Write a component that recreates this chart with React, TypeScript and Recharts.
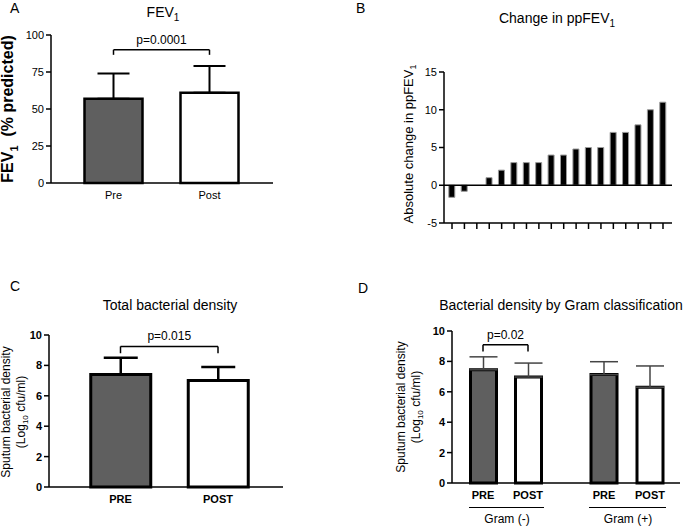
import React from 'react';
import { BarChart, Bar, XAxis, YAxis, ErrorBar, Cell, ReferenceLine } from 'recharts';

// Panel A – FEV1
const fevCategories = ['Pre', 'Post'];
const fevMean = [57, 61];
const fevSd = [17, 18];
const fevTicks = [0, 25, 50, 75, 100];

// Panel B – change in ppFEV1 per patient
const changeValues = [-1.6, -0.8, 0, 1, 2, 3, 3, 3, 4, 4, 4.8, 5, 5, 7, 7, 8, 10, 11];
const changeTicks = [-5, 0, 5, 10, 15];

// Panel C – total bacterial density
const densityCategories = ['PRE', 'POST'];
const totalMean = [7.4, 7.0];
const totalSd = [1.1, 0.9];
const densityTicks = [0, 2, 4, 6, 8, 10];

// Panel D – by Gram classification
const gramNegMean = [7.45, 6.97];
const gramNegSd = [0.85, 0.92];
const gramPosMean = [7.13, 6.3];
const gramPosSd = [0.85, 1.4];

const barFills = ['#5f5f5f', '#ffffff'];
const FONT = '"Liberation Sans", Arial, Helvetica, sans-serif';

const fevData = fevCategories.map((name, i) => ({ name, mean: fevMean[i], err: [0, fevSd[i]] }));
const changeData = changeValues.map((v, i) => ({ name: `p${i + 1}`, value: v }));
const totalData = densityCategories.map((name, i) => ({ name, mean: totalMean[i], err: [0, totalSd[i]] }));
const gramNegData = densityCategories.map((name, i) => ({ name, mean: gramNegMean[i], err: [0, gramNegSd[i]] }));
const gramPosData = densityCategories.map((name, i) => ({ name, mean: gramPosMean[i], err: [0, gramPosSd[i]] }));

const axisLine = { stroke: '#000', strokeWidth: 1.5 };
const tickLineStyle = { stroke: '#000', strokeWidth: 1.5 };

const abs = (left: number, top: number, extra: React.CSSProperties = {}): React.CSSProperties => ({
  position: 'absolute', left, top, fontFamily: FONT, color: '#000', lineHeight: 1, whiteSpace: 'nowrap', ...extra,
});

const Title: React.FC<{ cx: number; top: number; children: React.ReactNode }> = ({ cx, top, children }) => (
  <div style={abs(cx, top, { fontSize: 14, transform: 'translateX(-50%)' })}>{children}</div>
);

const Letter: React.FC<{ left: number; top: number; text: string }> = ({ left, top, text }) => (
  <div style={abs(left, top, { fontSize: 14 })}>{text}</div>
);

const VLabel: React.FC<{ cx: number; cy: number; style?: React.CSSProperties; children: React.ReactNode }> = ({ cx, cy, style, children }) => (
  <div style={abs(cx, cy, { transform: 'translate(-50%, -50%) rotate(-90deg)', textAlign: 'center', ...style })}>{children}</div>
);

const Bracket = (a: string, b: string, y: number, drop: number, text: string) => [
  <ReferenceLine key="h" segment={[{ x: a, y }, { x: b, y }]} stroke="#000" strokeWidth={1.5}
    label={{ value: text, position: 'top', fill: '#000', fontSize: 12, fontFamily: FONT, offset: 6 }} />,
  <ReferenceLine key="l" segment={[{ x: a, y }, { x: a, y: y - drop }]} stroke="#000" strokeWidth={1.5} />,
  <ReferenceLine key="r" segment={[{ x: b, y }, { x: b, y: y - drop }]} stroke="#000" strokeWidth={1.5} />,
];

const NoLabel = () => <g />;

export default function App() {
  return (
    <div style={{ position: 'absolute', left: 0, top: 0, width: 690, height: 526, background: '#fff', overflow: 'hidden' }}>
      {/* A */}
      <Letter left={10} top={1} text="A" />
      <Title cx={163} top={5}>FEV<sub style={{ fontSize: 10 }}>1</sub></Title>
      <VLabel cx={10} cy={109} style={{ fontSize: 16, fontWeight: 'bold' }}>
        FEV<sub style={{ fontSize: 11 }}>1</sub>&nbsp; (% predicted)
      </VLabel>
      <div style={{ position: 'absolute', left: 0, top: 0 }}>
        <BarChart width={345} height={263} data={fevData} margin={{ top: 35, right: 72, bottom: 50, left: 0 }}>
          <XAxis dataKey="name" padding={{ left: 14.5, right: 15.5 }} tickLine={false} axisLine={axisLine} height={30}
            tick={{ fill: '#000', fontSize: 11, fontFamily: FONT }} />
          <YAxis width={51} domain={[0, 100]} ticks={fevTicks} tickSize={5} axisLine={axisLine} tickLine={tickLineStyle}
            tick={{ fill: '#000', fontSize: 11, fontFamily: FONT }} />
          <Bar dataKey="mean" barSize={58} stroke="#000" strokeWidth={2.5} isAnimationActive={false}>
            {fevData.map((d, i) => <Cell key={d.name} fill={barFills[i]} />)}
            <ErrorBar dataKey="err" width={16} stroke="#000" strokeWidth={2} direction="y" />
          </Bar>
          {Bracket('Pre', 'Post', 90, 3.4, 'p=0.0001')}
        </BarChart>
      </div>

      {/* B */}
      <Letter left={356} top={1} text="B" />
      <Title cx={557} top={11}>Change in ppFEV<sub style={{ fontSize: 10 }}>1</sub></Title>
      <VLabel cx={410} cy={144} style={{ fontSize: 13 }}>
        Absolute change in ppFEV<sub style={{ fontSize: 9 }}>1</sub>
      </VLabel>
      <div style={{ position: 'absolute', left: 345, top: 0 }}>
        <BarChart width={345} height={263} data={changeData} margin={{ top: 72, right: 18, bottom: 10, left: 0 }}>
          <XAxis dataKey="name" padding={{ left: 1.8, right: 2.8 }} interval={0} tick={NoLabel} tickSize={6}
            axisLine={axisLine} tickLine={tickLineStyle} height={30} />
          <YAxis width={99} domain={[-5, 15]} ticks={changeTicks} tickSize={5} axisLine={axisLine} tickLine={tickLineStyle}
            tick={{ fill: '#000', fontSize: 11, fontFamily: FONT }} />
          <ReferenceLine y={0} stroke="#000" strokeWidth={1.5} />
          <Bar dataKey="value" barSize={6} fill="#000" stroke="#9a9a9a" strokeWidth={1} isAnimationActive={false} />
        </BarChart>
      </div>

      {/* C */}
      <Letter left={10} top={279} text="C" />
      <Title cx={170} top={298}>Total bacterial density</Title>
      <VLabel cx={16} cy={412} style={{ fontSize: 12, lineHeight: '15px' }}>
        Sputum bacterial density<br />(Log<sub style={{ fontSize: 8 }}>10</sub> cfu/ml)
      </VLabel>
      <div style={{ position: 'absolute', left: 0, top: 263 }}>
        <BarChart width={345} height={263} data={totalData} margin={{ top: 72, right: 62, bottom: 9, left: 0 }}>
          <XAxis dataKey="name" padding={{ left: 22.75, right: 16.25 }} tickLine={false} axisLine={axisLine} height={30}
            tick={{ fill: '#000', fontSize: 11, fontWeight: 'bold', fontFamily: FONT }} />
          <YAxis width={49} domain={[0, 10]} ticks={densityTicks} tickSize={5} axisLine={axisLine} tickLine={tickLineStyle}
            tick={{ fill: '#000', fontSize: 11, fontWeight: 'bold', fontFamily: FONT }} />
          <Bar dataKey="mean" barSize={60} stroke="#000" strokeWidth={3} isAnimationActive={false}>
            {totalData.map((d, i) => <Cell key={d.name} fill={barFills[i]} />)}
            <ErrorBar dataKey="err" width={17} stroke="#000" strokeWidth={2.5} direction="y" />
          </Bar>
          {Bracket('PRE', 'POST', 9.25, 0.45, 'p=0.015')}
        </BarChart>
      </div>

      {/* D */}
      <Letter left={358} top={281} text="D" />
      <Title cx={561} top={298}>Bacterial density by Gram classification</Title>
      <VLabel cx={411} cy={407} style={{ fontSize: 12, lineHeight: '15px' }}>
        Sputum bacterial density<br />(Log<sub style={{ fontSize: 8 }}>10</sub> cfu/ml)
      </VLabel>
      <div style={{ position: 'absolute', left: 345, top: 263 }}>
        <BarChart width={221} height={263} data={gramNegData} margin={{ top: 68, right: 0, bottom: 13, left: 0 }}>
          <XAxis dataKey="name" padding={{ left: 8.5, right: 15.5 }} tickLine={false} axisLine={axisLine} height={30}
            tick={{ fill: '#000', fontSize: 11, fontWeight: 'bold', fontFamily: FONT }} />
          <YAxis width={107} domain={[0, 10]} ticks={densityTicks} tickSize={5} axisLine={axisLine} tickLine={tickLineStyle}
            tick={{ fill: '#000', fontSize: 11, fontWeight: 'bold', fontFamily: FONT }} />
          <Bar dataKey="mean" barSize={26} stroke="#000" strokeWidth={3} isAnimationActive={false}>
            {gramNegData.map((d, i) => <Cell key={d.name} fill={barFills[i]} />)}
            <ErrorBar dataKey="err" width={14} stroke="#444" strokeWidth={1.5} direction="y" />
          </Bar>
          {Bracket('PRE', 'POST', 9.1, 0.45, 'p=0.02')}
        </BarChart>
      </div>
      <div style={{ position: 'absolute', left: 566, top: 263 }}>
        <BarChart width={124} height={263} data={gramPosData} margin={{ top: 68, right: 10, bottom: 13, left: 0 }}>
          <XAxis dataKey="name" padding={{ left: 15, right: 7 }} tickLine={false} axisLine={axisLine} height={30}
            tick={{ fill: '#000', fontSize: 11, fontWeight: 'bold', fontFamily: FONT }} />
          <YAxis hide domain={[0, 10]} ticks={densityTicks} />
          <Bar dataKey="mean" barSize={26} stroke="#000" strokeWidth={3} isAnimationActive={false}>
            {gramPosData.map((d, i) => <Cell key={d.name} fill={barFills[i]} />)}
            <ErrorBar dataKey="err" width={14} stroke="#444" strokeWidth={1.5} direction="y" />
          </Bar>
        </BarChart>
      </div>
      <div style={{ position: 'absolute', left: 469, top: 507, width: 75, borderTop: '1px solid #000' }} />
      <div style={{ position: 'absolute', left: 589, top: 507, width: 77, borderTop: '1px solid #000' }} />
      <div style={abs(507, 513, { fontSize: 12, transform: 'translateX(-50%)' })}>Gram (-)</div>
      <div style={abs(628, 513, { fontSize: 12, transform: 'translateX(-50%)' })}>Gram (+)</div>
    </div>
  );
}
